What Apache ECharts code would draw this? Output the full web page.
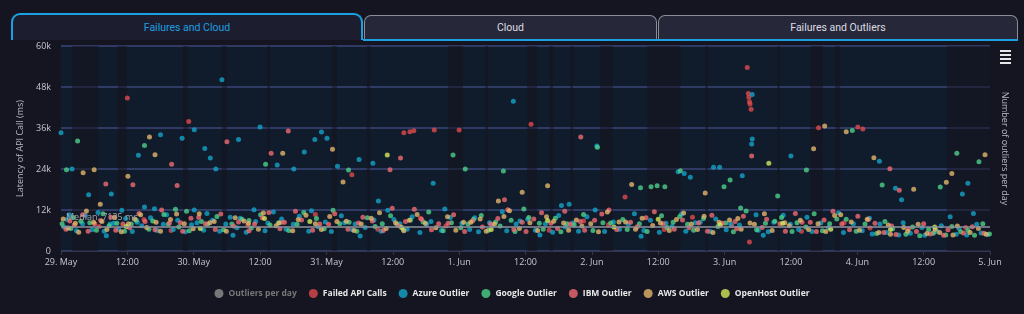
<!DOCTYPE html>
<html>
<head>
<meta charset="utf-8">
<script src="https://cdn.jsdelivr.net/npm/echarts@6/dist/echarts.min.js"></script>
<style>
  html, body { margin: 0; padding: 0; background: #141521; }
  #wrap { position: relative; width: 1024px; height: 314px; overflow: hidden; font-family: Roboto, sans-serif; }
  #chart { position: absolute; left: 0; top: 0; width: 1024px; height: 314px; }
  .tab { position: absolute; box-sizing: border-box; text-align: center; font-size: 10.5px; }
  .tab.active { left: 11px; top: 13px; width: 352px; height: 27px; border: 2px solid #1ba0e1; border-bottom: none;
    border-radius: 9px 9px 0 0; background: #1c1e2f; color: #1d9fe0; line-height: 25px; }
  .tab.idle { top: 15px; height: 25px; border: 1px solid #8a8c98; border-bottom: none; border-radius: 7px 7px 0 0;
    background: #262839; color: #dcdde2; line-height: 24px; }
  #tabline { position: absolute; left: 363px; top: 39px; width: 655px; height: 2px; background: #1ba0e1; }
  #menu { position: absolute; left: 1000px; top: 50px; width: 11px; }
  #menu span { display: block; height: 2px; background: #e6e6e6; margin-bottom: 2px; }
</style>
</head>
<body>
<div id="wrap">
  <div id="chart"></div>
  <div class="tab active">Failures and Cloud</div>
  <div class="tab idle" style="left:364px;width:293px;">Cloud</div>
  <div class="tab idle" style="left:658px;width:360px;">Failures and Outliers</div>
  <div id="tabline"></div>
  <div id="menu"><span></span><span></span><span></span><span></span></div>
</div>
<script>
  // x: hours since 29 May 00:00, y: latency in thousand ms
  const tickLabels = ['29. May', '12:00', '30. May', '12:00', '31. May', '12:00', '1. Jun', '12:00',
    '2. Jun', '12:00', '3. Jun', '12:00', '4. Jun', '12:00', '5. Jun']
  const medianLatency = 7.135

  // darker periods on the plot background, [from hour, to hour]
  const darkPeriods = [[2.0, 6.7], [10.3, 11.9], [22.1, 23.0], [29.1, 30.0], [37.3, 37.8], [49.0, 49.9],
    [55.3, 55.9], [70.0, 72.7], [76.7, 77.2], [84.3, 86.1], [88.4, 89.0], [92.1, 92.6], [97.5, 99.8],
    [106.0, 112.0], [116.5, 117.0], [129.5, 130.0], [135.5, 137.8], [140.0, 140.9], [160.2, 168]]

  const outliersPerDay = []

  const failedCalls = [[12.0, 44.8], [23.1, 37.9], [62.0, 34.6], [63.1, 34.9], [63.8, 35.2], [67.5, 35.4],
    [72.0, 35.4], [85.0, 37.1], [124.1, 53.7], [124.3, 46.1], [124.4, 45.0], [124.5, 43.7], [124.6, 43.0],
    [124.8, 41.5], [137.0, 36.1], [144.1, 36.3], [145.0, 35.7], [102.0, 15.8], [52.6, 22.3],
    [6.9, 7.2], [19.9, 6.0], [33.8, 7.6], [46.0, 10.7], [57.3, 6.4], [69.6, 7.3], [88.3, 6.1], [99.0, 7.7],
    [109.1, 6.3], [121.3, 7.4], [124.5, 2.6], [133.9, 5.8], [146.3, 6.7], [157.9, 5.5],
    [15.0, 9.2], [40.0, 8.4], [65.0, 9.6], [94.5, 8.8], [114.2, 9.9], [141.6, 8.3], [163.6, 6.9]]

  const azureOutliers = [[0.0, 34.6], [2.0, 24.0], [1.5, 10.6], [5.0, 16.5], [9.1, 16.7], [11.0, 11.9],
    [14.0, 28.0], [15.1, 12.9], [18.0, 34.0], [21.9, 33.0], [24.1, 35.5], [24.1, 12.0], [26.0, 30.0],
    [27.0, 27.2], [28.0, 24.0], [29.1, 50.1], [32.1, 32.6], [36.0, 36.3], [39.1, 25.2], [42.1, 24.0],
    [44.0, 29.0], [45.9, 32.6], [47.1, 34.8], [48.1, 33.0], [50.0, 24.8], [53.9, 26.8], [56.4, 25.7],
    [57.4, 14.6], [67.3, 19.8], [81.8, 43.8], [90.5, 13.3], [91.9, 13.7], [96.9, 30.7], [111.6, 23.2],
    [112.7, 22.7], [113.8, 21.6], [118.0, 24.5], [119.1, 24.5], [123.2, 22.0], [125.0, 45.8], [125.0, 32.8],
    [124.9, 31.3], [132.0, 27.8], [148.0, 26.3], [150.9, 18.4], [152.0, 15.0], [160.8, 10.0], [163.0, 16.7],
    [164.0, 19.8], [165.0, 11.0],
    [0.6, 7.0], [2.8, 5.9], [4.4, 10.4], [5.6, 6.2], [7.8, 5.8], [9.5, 8.1], [10.4, 6.4], [12.9, 5.7],
    [14.6, 7.4], [16.2, 9.7], [17.4, 6.0], [19.1, 10.6], [20.3, 6.3], [22.5, 5.6], [23.6, 7.7], [25.8, 6.1],
    [27.4, 9.0], [28.7, 5.8], [30.6, 9.9], [31.8, 6.8], [33.5, 5.5], [35.2, 8.6], [36.9, 5.9], [38.4, 11.4],
    [40.7, 6.4], [43.1, 10.2], [44.8, 5.8], [46.5, 7.1], [48.9, 5.7], [51.3, 8.3], [52.7, 6.2], [55.0, 6.9],
    [57.9, 5.8], [60.2, 9.2], [62.6, 6.4], [64.9, 5.4], [66.1, 7.8], [68.8, 6.0], [70.4, 9.8], [73.9, 6.3],
    [75.5, 5.6], [78.0, 7.5], [80.6, 5.9], [83.0, 8.8], [85.8, 6.1], [88.9, 5.5], [91.2, 7.0], [93.6, 5.8],
    [95.1, 10.0], [98.3, 5.7], [101.0, 6.4], [103.7, 10.9], [105.4, 6.0], [108.2, 5.5], [110.5, 7.2],
    [113.0, 5.8], [115.6, 8.4], [117.4, 5.7], [120.3, 6.2], [122.7, 7.6], [126.1, 6.1], [127.9, 5.6],
    [130.6, 10.5], [133.4, 6.3], [135.8, 5.7], [138.8, 6.8], [141.5, 5.4], [144.9, 5.9], [146.7, 5.0],
    [149.3, 5.4], [151.5, 4.7], [153.6, 5.2], [156.2, 4.6], [158.4, 5.8], [161.9, 4.9], [163.8, 4.7],
    [166.4, 5.3], [167.6, 4.8],
    [1.1, 9.2], [3.9, 8.0], [6.7, 11.3], [8.9, 7.9], [11.7, 9.5], [13.8, 8.4], [16.9, 12.4], [18.5, 7.8],
    [21.1, 9.0], [24.6, 8.3], [26.4, 11.0], [29.8, 7.9], [32.4, 9.6], [34.9, 12.1], [37.4, 8.2], [39.9, 9.4],
    [42.0, 7.8], [45.3, 11.8], [47.8, 8.5], [50.7, 10.3], [53.2, 7.9], [56.6, 9.1], [59.1, 11.9], [61.3, 8.0],
    [63.5, 10.0], [66.9, 8.6], [69.4, 12.3], [72.5, 8.1], [74.8, 9.7], [77.5, 8.3], [79.8, 11.5], [82.3, 7.9],
    [84.4, 9.3], [87.6, 8.0], [90.0, 10.4], [92.6, 8.2], [96.6, 12.0], [99.9, 8.5], [102.6, 7.9], [106.6, 9.0],
    [109.4, 8.1], [112.2, 10.8], [114.7, 8.3], [118.4, 9.4], [121.1, 8.0], [125.7, 10.6], [128.9, 8.4],
    [131.9, 7.8], [134.9, 9.9], [137.4, 8.2], [140.6, 11.2], [143.3, 8.0], [146.2, 9.6], [148.1, 7.9],
    [152.3, 8.3], [155.7, 6.9], [159.2, 7.4], [162.4, 6.6], [165.6, 7.8],
    [8.2, 4.5], [31.1, 4.6], [54.1, 4.4], [86.6, 4.7], [104.9, 4.3], [127.0, 4.6]]

  const googleOutliers = [[1.0, 23.8], [3.0, 32.2], [15.1, 30.9], [20.7, 12.2], [37.0, 25.4], [52.0, 23.7],
    [70.9, 28.1], [73.1, 24.0], [80.0, 23.4], [97.0, 30.4], [104.8, 18.5], [106.7, 18.8], [107.8, 19.1],
    [109.2, 18.8], [112.0, 23.5], [119.9, 18.8], [121.0, 20.8], [129.6, 16.1], [134.8, 23.7], [143.1, 35.3],
    [148.5, 19.3], [159.0, 18.7], [162.0, 28.6], [166.0, 26.1],
    [0.2, 8.0], [1.8, 6.6], [3.6, 8.7], [6.4, 6.1], [8.7, 7.4], [11.5, 5.8], [13.6, 9.0], [15.9, 6.4],
    [18.6, 10.7], [21.3, 7.0], [23.2, 5.9], [26.5, 7.8], [29.4, 6.2], [32.7, 9.3], [34.4, 6.7], [37.8, 7.6],
    [41.2, 6.0], [43.9, 11.3], [47.6, 6.5], [50.4, 8.0], [53.5, 5.8], [56.8, 7.2], [59.6, 10.3], [61.9, 6.3],
    [65.5, 8.5], [69.1, 5.9], [72.3, 6.8], [74.6, 9.2], [77.3, 6.1], [79.4, 7.3], [82.1, 5.7], [84.6, 9.8],
    [87.2, 6.4], [90.4, 5.6], [92.8, 7.7], [96.2, 6.0], [99.4, 8.2], [102.4, 6.3], [106.0, 5.7], [109.6, 6.9],
    [111.9, 10.1], [114.4, 6.1], [118.8, 7.2], [121.6, 5.6], [123.9, 11.7], [125.8, 6.2], [129.1, 8.7],
    [132.2, 5.7], [134.7, 7.0], [137.7, 5.9], [140.3, 9.4], [143.8, 5.8], [147.5, 5.1], [150.4, 6.5],
    [152.8, 4.9], [155.3, 4.5], [157.7, 5.2], [160.0, 4.7], [162.7, 5.6], [165.2, 4.6], [167.9, 5.0],
    [2.2, 9.8], [5.2, 8.3], [7.6, 10.9], [10.1, 8.1], [12.7, 7.9], [16.6, 8.8], [19.4, 7.8], [22.7, 11.6],
    [25.4, 8.6], [28.2, 10.1], [30.9, 7.9], [34.0, 8.9], [36.1, 10.6], [39.3, 8.2], [42.7, 7.8], [46.2, 9.5],
    [49.2, 11.9], [52.1, 8.4], [55.4, 9.7], [58.1, 8.0], [60.8, 7.8], [63.2, 9.1], [66.5, 11.4], [70.6, 8.3],
    [73.6, 7.9], [76.0, 10.4], [78.6, 8.5], [81.4, 9.0], [83.7, 12.3], [86.5, 8.1], [89.4, 9.6], [91.5, 8.0],
    [94.5, 10.7], [98.0, 8.3], [101.6, 9.2], [104.6, 8.0], [108.6, 10.3], [110.7, 8.4], [113.3, 7.8],
    [116.2, 9.5], [120.2, 8.2], [122.9, 12.6], [127.4, 8.1], [130.3, 9.8], [133.1, 8.3], [136.2, 10.9],
    [139.0, 8.0], [142.0, 9.3], [145.4, 7.9], [149.0, 8.6], [154.0, 7.0], [156.9, 6.3], [161.1, 7.2],
    [164.0, 6.1], [166.7, 8.0]]

  const ibmOutliers = [[8.1, 19.6], [13.0, 19.4], [20.0, 25.4], [21.0, 19.2], [30.0, 32.0], [38.0, 28.6],
    [41.1, 35.1], [59.5, 23.8], [61.4, 27.2], [80.2, 15.0], [94.0, 33.4], [124.9, 27.8], [149.9, 24.1],
    [151.6, 17.8],
    [0.9, 6.4], [2.4, 7.6], [4.9, 5.8], [7.2, 8.9], [9.9, 6.1], [12.4, 6.8], [14.1, 11.0], [17.0, 6.2],
    [19.6, 8.2], [22.0, 5.8], [24.9, 9.8], [27.9, 6.3], [31.2, 7.3], [34.0, 5.9], [36.4, 9.7], [39.6, 6.5],
    [42.4, 11.6], [45.5, 6.1], [48.4, 7.8], [51.9, 6.4], [54.6, 9.9], [58.3, 6.0], [61.1, 7.4], [63.9, 12.2],
    [67.0, 6.2], [70.0, 8.1], [73.0, 5.7], [76.2, 7.0], [79.0, 9.5], [81.9, 6.3], [84.1, 5.7], [86.9, 11.2],
    [89.8, 6.6], [92.1, 7.9], [94.7, 6.1], [97.8, 10.8], [100.5, 6.3], [104.2, 7.1], [107.3, 11.5],
    [110.9, 6.4], [113.6, 6.8], [116.9, 5.8], [119.6, 8.1], [122.2, 6.5], [123.4, 10.2], [126.8, 6.9],
    [131.0, 5.8], [134.0, 8.4], [136.6, 5.7], [139.6, 11.6], [142.6, 6.2], [146.0, 9.2], [148.8, 5.4],
    [151.0, 4.8], [154.7, 5.7], [157.2, 5.0], [159.6, 4.6], [163.2, 5.3], [166.9, 5.2],
    [1.6, 8.8], [3.9, 10.6], [6.1, 8.0], [9.0, 9.9], [11.2, 7.9], [15.2, 8.6], [18.2, 12.0], [21.6, 8.3],
    [23.5, 9.6], [26.1, 8.0], [28.9, 10.8], [32.1, 8.5], [35.0, 7.9], [37.6, 11.3], [40.4, 8.4], [43.5, 9.1],
    [46.8, 7.9], [49.5, 10.9], [53.8, 8.2], [56.3, 8.8], [59.9, 12.5], [62.3, 8.6], [65.2, 9.3], [68.3, 8.0],
    [71.0, 10.6], [74.4, 8.8], [77.7, 7.9], [80.8, 12.1], [83.4, 8.4], [85.5, 9.4], [88.6, 8.1], [91.1, 11.6],
    [93.9, 8.6], [96.5, 9.0], [99.1, 12.0], [103.0, 8.4], [105.8, 9.7], [108.9, 8.0], [112.4, 9.1],
    [115.3, 8.2], [117.7, 10.5], [121.9, 8.6], [127.6, 9.3], [130.0, 8.0], [132.8, 11.0], [135.5, 8.4],
    [138.0, 9.1], [141.2, 7.9], [144.1, 10.2], [147.2, 8.1], [150.2, 7.3], [153.3, 6.5], [156.0, 8.0],
    [160.4, 6.2], [164.8, 7.1]]

  const awsOutliers = [[4.0, 22.9], [6.0, 23.8], [7.1, 13.7], [12.1, 21.9], [16.0, 33.4], [17.0, 28.2],
    [40.1, 28.6], [49.1, 29.8], [51.0, 20.2], [79.1, 14.6], [83.4, 17.2], [88.0, 19.1], [103.2, 19.5],
    [116.5, 17.0], [136.1, 29.9], [138.1, 36.6], [142.0, 34.9], [147.0, 27.3], [154.2, 18.1], [160.1, 20.1],
    [161.1, 22.7], [167.1, 28.2],
    [1.3, 6.7], [3.2, 5.5], [5.9, 8.4], [8.3, 6.3], [10.9, 5.6], [13.3, 9.4], [15.5, 6.9], [18.0, 5.8],
    [20.9, 10.8], [23.9, 6.5], [26.9, 8.3], [29.9, 5.8], [33.1, 8.8], [35.7, 6.4], [38.9, 7.4], [41.9, 5.9],
    [44.3, 10.5], [47.1, 6.3], [49.9, 8.6], [53.0, 6.0], [56.1, 9.6], [58.8, 6.6], [62.0, 5.9], [64.4, 10.7],
    [67.8, 6.8], [71.4, 6.1], [74.1, 8.4], [76.9, 5.8], [80.1, 10.1], [82.9, 6.6], [86.2, 6.0], [89.1, 8.7],
    [91.8, 6.1], [94.2, 7.3], [97.2, 5.6], [100.9, 8.5], [103.9, 6.4], [107.0, 7.5], [110.0, 6.0],
    [112.6, 11.1], [115.1, 6.3], [117.9, 5.4], [120.9, 9.1], [123.0, 6.4], [125.4, 7.8], [128.6, 6.0],
    [131.7, 7.4], [135.2, 6.3], [138.3, 5.7], [141.0, 10.6], [144.4, 6.1], [147.9, 5.4], [150.0, 4.9],
    [153.1, 5.8], [156.6, 5.1], [158.9, 5.4], [161.3, 4.7], [164.4, 5.4], [167.3, 4.9],
    [0.4, 9.4], [2.6, 8.1], [4.6, 11.7], [7.4, 8.6], [9.7, 9.9], [12.2, 8.0], [14.4, 10.6], [17.2, 8.4],
    [19.8, 9.2], [22.3, 8.0], [25.0, 10.9], [27.7, 8.6], [31.5, 9.7], [33.9, 8.1], [36.6, 11.1], [39.5, 8.3],
    [42.9, 9.2], [46.0, 8.0], [48.6, 10.1], [51.6, 8.7], [54.3, 7.9], [57.6, 11.2], [60.5, 8.3], [63.0, 9.0],
    [65.9, 8.1], [69.9, 10.0], [72.8, 8.4], [75.8, 9.4], [78.4, 7.9], [81.1, 11.8], [84.8, 8.3], [87.8, 10.0],
    [90.9, 8.2], [93.2, 9.1], [95.8, 8.0], [98.8, 11.4], [102.1, 8.5], [105.1, 9.6], [108.4, 8.2],
    [111.3, 9.2], [114.0, 7.9], [116.3, 10.2], [119.0, 8.4], [122.4, 9.5], [124.6, 8.2], [127.2, 10.9],
    [130.9, 8.3], [133.7, 9.0], [136.9, 8.0], [139.9, 10.4], [142.9, 8.5], [145.8, 9.3], [149.6, 7.6],
    [152.4, 6.9], [155.0, 7.8], [158.1, 6.4], [162.1, 7.3], [165.9, 6.6]]

  const openHostOutliers = [[59.0, 28.1], [128.0, 25.7],
    [11.8, 7.2], [25.2, 6.6], [45.0, 8.6], [61.6, 6.9], [77.8, 6.3], [100.0, 7.0], [119.2, 7.7],
    [139.2, 6.4], [150.0, 6.3], [36.8, 9.5], [88.0, 8.9], [108.0, 9.3], [130.5, 8.1], [158.0, 7.0]]

  const chart = echarts.init(document.getElementById('chart'))

  const scatter = (name, data, color) => ({
    name,
    type: 'scatter',
    data,
    symbolSize: 5,
    itemStyle: { color },
    z: 3
  })

  chart.setOption({
    backgroundColor: 'transparent',
    textStyle: { fontFamily: 'Open Sans' },
    animation: false,
    grid: {
      left: 61, right: 34, top: 46, bottom: 63,
      show: true, backgroundColor: '#101c2c', borderWidth: 0
    },
    legend: {
      top: 284,
      left: 'center',
      icon: 'circle',
      itemWidth: 9,
      itemHeight: 9,
      itemGap: 12,
      inactiveColor: '#777',
      textStyle: { color: '#e8e8e8', fontSize: 8.5, fontWeight: 'bold' },
      data: ['Outliers per day', 'Failed API Calls', 'Azure Outlier', 'Google Outlier',
        'IBM Outlier', 'AWS Outlier', 'OpenHost Outlier'],
      selected: { 'Outliers per day': false }
    },
    xAxis: {
      type: 'value',
      min: 0,
      max: 168,
      interval: 12,
      axisLine: { lineStyle: { color: '#34374a' } },
      axisTick: { lineStyle: { color: '#34374a' }, length: 4 },
      splitLine: { show: false },
      axisLabel: {
        color: '#c5c7cf', fontSize: 9, margin: 7,
        formatter: v => tickLabels[Math.round(v / 12)]
      }
    },
    yAxis: [{
      type: 'value',
      min: 0,
      max: 60,
      interval: 12,
      name: 'Latency of API Call (ms)',
      nameLocation: 'middle',
      nameGap: 30,
      nameTextStyle: { color: '#b7b9c2', fontSize: 9 },
      axisLine: { show: false },
      axisTick: { show: false },
      axisLabel: { color: '#c5c7cf', fontSize: 9, margin: 10, formatter: v => v === 0 ? '0' : v + 'k' },
      splitLine: { lineStyle: { color: '#3a4678', width: 1.5 } }
    }, {
      type: 'value',
      position: 'right',
      name: 'Number of outliers per day',
      nameLocation: 'middle',
      nameRotate: -90,
      nameGap: 10,
      nameTextStyle: { color: '#b7b9c2', fontSize: 9 },
      axisLine: { show: false },
      axisTick: { show: false },
      axisLabel: { show: false },
      splitLine: { show: false }
    }],
    series: [
      {
        name: 'periods',
        type: 'scatter',
        data: [],
        silent: true,
        z: 1,
        markArea: {
          silent: true,
          itemStyle: { color: 'rgba(22, 20, 30, 0.55)' },
          data: darkPeriods.map(p => [{ xAxis: p[0] }, { xAxis: p[1] }])
        },
        markLine: {
          silent: true,
          symbol: 'none',
          lineStyle: { color: '#8e919c', width: 1.5, type: 'solid' },
          label: {
            position: 'insideStartTop',
            color: '#a3a5ad',
            fontSize: 9,
            formatter: 'Median: ' + Math.round(medianLatency * 1000) + ' ms'
          },
          data: [{ yAxis: medianLatency }]
        }
      },
      {
        name: 'Outliers per day',
        type: 'bar',
        yAxisIndex: 1,
        data: outliersPerDay,
        itemStyle: { color: '#888' }
      },
      scatter('Failed API Calls', failedCalls, '#df4a4c'),
      scatter('Azure Outlier', azureOutliers, '#14a2c8'),
      scatter('Google Outlier', googleOutliers, '#4dcf88'),
      scatter('IBM Outlier', ibmOutliers, '#f06a72'),
      scatter('AWS Outlier', awsOutliers, '#e2b56c'),
      scatter('OpenHost Outlier', openHostOutliers, '#d3e85a')
    ]
  })
</script>
</body>
</html>
